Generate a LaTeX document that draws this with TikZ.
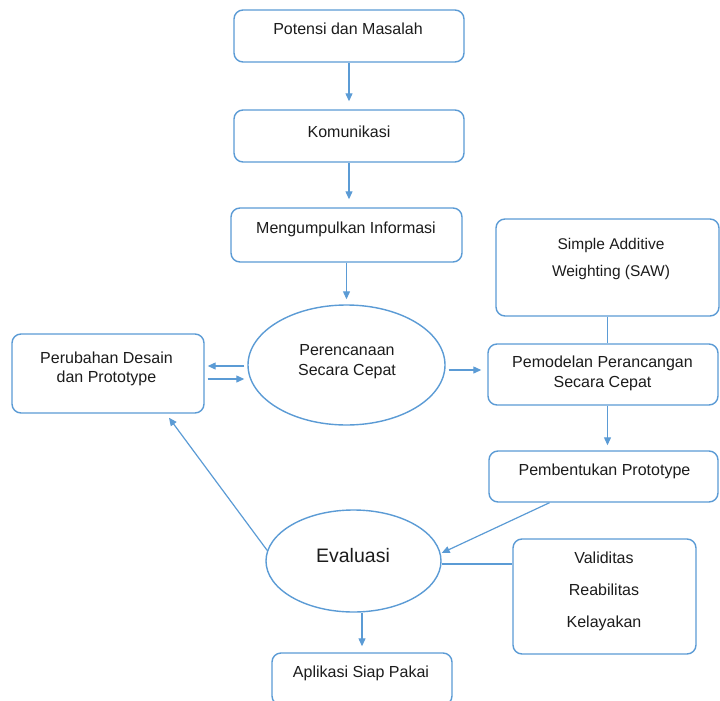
\documentclass[tikz,border=0pt]{standalone}
\usepackage{fontspec}
\setmainfont{Liberation Sans}
\usetikzlibrary{shapes.geometric, arrows.meta, positioning}
\definecolor{wordblue}{RGB}{91,155,213}
\definecolor{wordtext}{RGB}{28,28,28}
\tikzset{
    box/.style={rectangle, draw=wordblue, line width=1.4pt, rounded corners=9pt, fill=white},
    oval/.style={ellipse, draw=wordblue, line width=1.4pt, fill=white, inner sep=0pt},
    txt/.style={text=wordtext, align=center, inner sep=0pt, anchor=base, font=\fontsize{16}{20}\selectfont},
    arrow/.style={draw=wordblue, line width=1.2pt, -{Triangle[length=8pt, width=7pt]}},
    link/.style={draw=wordblue, line width=1.2pt}
}

\begin{document}
\begin{tikzpicture}[x=1pt, y=1pt]
        \useasboundingbox (0,0) rectangle (720,-701);

        % Main flow
        \node (Potensi) [box, minimum width=230pt, minimum height=52pt] at (349,-36) {};
        \node (Potensi_label) [txt] at (348,-35) {Potensi dan Masalah};

        \node (Komunikasi) [box, minimum width=230pt, minimum height=52pt] at (349,-136) {};
        \node (Komunikasi_label) [txt] at (349,-137) {Komunikasi};

        \node (Mengumpulkan) [box, minimum width=231pt, minimum height=54pt] at (346.5,-235) {};
        \node (Mengumpulkan_label) [txt] at (346,-233) {Mengumpulkan Informasi};

        \node (Perencanaan) [oval, minimum width=197pt, minimum height=120pt] at (346.5,-365) {};
        \node (Perencanaan_label) [txt] at (347,-375) {Perencanaan\\Secara Cepat};

        % Left branch
        \node (Perubahan) [box, minimum width=192pt, minimum height=79pt] at (108,-373.5) {};
        \node (Perubahan_label) [txt, font=\fontsize{16}{19}\selectfont] at (106.5,-382) {Perubahan Desain\\dan Prototype};

        % Right branch
        \node (SAW) [box, minimum width=223pt, minimum height=97pt] at (607.5,-267.5) {};
        \node (SAW_label) [txt, font=\fontsize{15.5}{27}\selectfont] at (611,-276) {Simple Additive\\Weighting (SAW)};

        \node (Pemodelan) [box, minimum width=230pt, minimum height=61pt] at (603,-374.5) {};
        \node (Pemodelan_label) [txt] at (602.5,-387) {Pemodelan Perancangan\\Secara Cepat};

        \node (Pembentukan) [box, minimum width=229pt, minimum height=51pt] at (603.5,-476.5) {};
        \node (Pembentukan_label) [txt] at (604.5,-475) {Pembentukan Prototype};

        % Evaluation
        \node (Evaluasi) [oval, minimum width=175pt, minimum height=102pt] at (353.5,-561) {};
        \node (Evaluasi_label) [txt, font=\fontsize{19.5}{24}\selectfont] at (353,-562) {Evaluasi};

        \node (Validitas) [box, minimum width=183pt, minimum height=115pt] at (604.5,-596.5) {};
        \node (Validitas_label) [txt, font=\fontsize{16}{32}\selectfont] at (604,-627) {Validitas\\Reabilitas\\Kelayakan};

        \node (Aplikasi) [box, minimum width=180pt, minimum height=52pt] at (362,-679) {};
        \node (Aplikasi_label) [txt] at (361,-677) {Aplikasi Siap Pakai};

        % Connectors
        \draw[arrow, shorten >=8pt] (Potensi) -- (Komunikasi);
        \draw[arrow, shorten >=8pt] (Komunikasi.south) -- (Komunikasi.south |- Mengumpulkan.north);
        \draw[arrow, shorten >=5pt] (Mengumpulkan.south) -- (Mengumpulkan.south |- Perencanaan.north);
        \draw[arrow, shorten <=3pt, shorten >=3pt] ([yshift=-1pt]Perencanaan.west) -- ([yshift=-1pt]Perencanaan.west -| Perubahan.east);
        \draw[arrow, shorten <=3pt, shorten >=3pt] ([yshift=-5.5pt]Perubahan.east) -- ([yshift=-5.5pt]Perubahan.east -| Perencanaan.west);
        \draw[arrow, shorten <=3pt, shorten >=6pt] ([yshift=-5pt]Perencanaan.east) -- ([yshift=-5pt]Perencanaan.east -| Pemodelan.west);
        \draw[link] (SAW.south) -- (SAW.south |- Pemodelan.north);
        \draw[arrow, shorten >=5pt] (SAW.south |- Pemodelan.south) -- (SAW.south |- Pembentukan.north);
        \draw[arrow] ([xshift=-54pt]Pembentukan.south) -- ([yshift=8pt]Evaluasi.east);
        \draw[arrow, shorten >=5pt] (Evaluasi.173) -- ([xshift=58pt]Perubahan.south);
        \draw[link] ([yshift=-3pt]Evaluasi.east) -- ([yshift=-3pt]Evaluasi.east -| Validitas.west);
        \draw[arrow, shorten >=6pt] (Aplikasi.north |- Evaluasi.south) -- (Aplikasi.north);

\end{tikzpicture}
\end{document}
